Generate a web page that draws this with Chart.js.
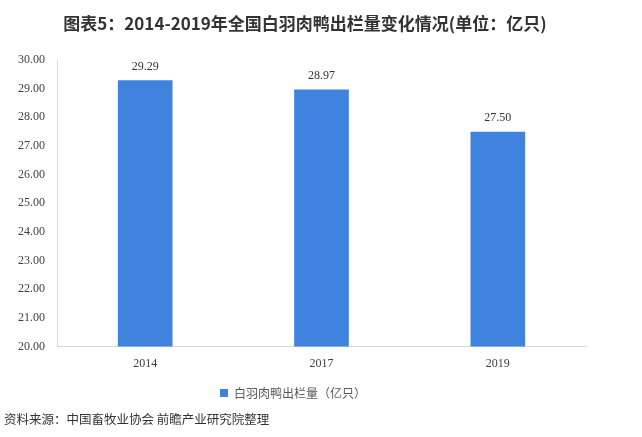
<!DOCTYPE html>
<html>
<head>
<meta charset="utf-8">
<script src="https://cdn.jsdelivr.net/npm/chart.js@4"></script>
<style>
  body { margin: 0; background: #fff; }
  #wrap { position: relative; width: 642px; height: 437px; }
  #title { position: absolute; top: 10px; left: 0; width: 610px; text-align: center;
    font: bold 17px "Noto Sans CJK SC", sans-serif; color: #333; }
  #source { position: absolute; left: 4px; top: 409px;
    font: 12.5px "Noto Sans CJK SC", sans-serif; color: #333; }
  #box { position: absolute; left: 0; top: 0; width: 642px; height: 437px; }
</style>
</head>
<body>
<div id="wrap">
  <div id="box"><canvas id="barChart"></canvas></div>
  <div id="title">图表5：2014-2019年全国白羽肉鸭出栏量变化情况(单位：亿只)</div>
  <div id="source">资料来源：中国畜牧业协会 前瞻产业研究院整理</div>
</div>
<script>
// chart data
var years = ['2014', '2017', '2019'];
var duckOutput = [29.29, 28.97, 27.50];
var seriesName = '白羽肉鸭出栏量（亿只）';

// draw value labels above bars
var valueLabels = {
    id: 'valueLabels',
    afterDatasetsDraw: function(chart) {
        var ctx = chart.ctx;
        var meta = chart.getDatasetMeta(0);
        ctx.save();
        ctx.font = '12px "Liberation Serif", serif';
        ctx.fillStyle = '#333';
        ctx.textAlign = 'center';
        ctx.textBaseline = 'bottom';
        meta.data.forEach(function(bar, i) {
            ctx.fillText(duckOutput[i].toFixed(2), bar.x, bar.y - 8);
        });
        ctx.restore();
    }
};

var ctx = document.getElementById('barChart').getContext('2d');
var myBarChart = new Chart(ctx, {
    type: 'bar',
    data: {
        labels: years,
        datasets: [{
            label: seriesName,
            data: duckOutput,
            backgroundColor: '#3F83DE',
            categoryPercentage: 1,
            barPercentage: 0.31
        }]
    },
    options: {
        responsive: true,
        maintainAspectRatio: false,
        animation: false,
        layout: { padding: { left: 0, right: 56, top: 60, bottom: 28 } },
        plugins: {
            legend: {
                position: 'bottom',
                labels: {
                    boxWidth: 8,
                    boxHeight: 8,
                    padding: 6,
                    color: '#595959',
                    font: { family: '"Noto Sans CJK SC", sans-serif', size: 12 }
                }
            },
            tooltip: { enabled: false }
        },
        scales: {
            x: {
                grid: { display: false, drawTicks: false },
                border: { color: '#d9d9d9' },
                ticks: {
                    color: '#404040',
                    padding: 10,
                    font: { family: '"Liberation Serif", serif', size: 12 }
                }
            },
            y: {
                min: 20,
                max: 30,
                grid: { display: false, drawTicks: false },
                border: { color: '#d9d9d9' },
                afterFit: function(scale) { scale.width = 57; },
                ticks: {
                    stepSize: 1,
                    color: '#404040',
                    padding: 12,
                    font: { family: '"Liberation Serif", serif', size: 12 },
                    callback: function(v) { return v.toFixed(2); }
                }
            }
        }
    },
    plugins: [valueLabels]
});
</script>
</body>
</html>
